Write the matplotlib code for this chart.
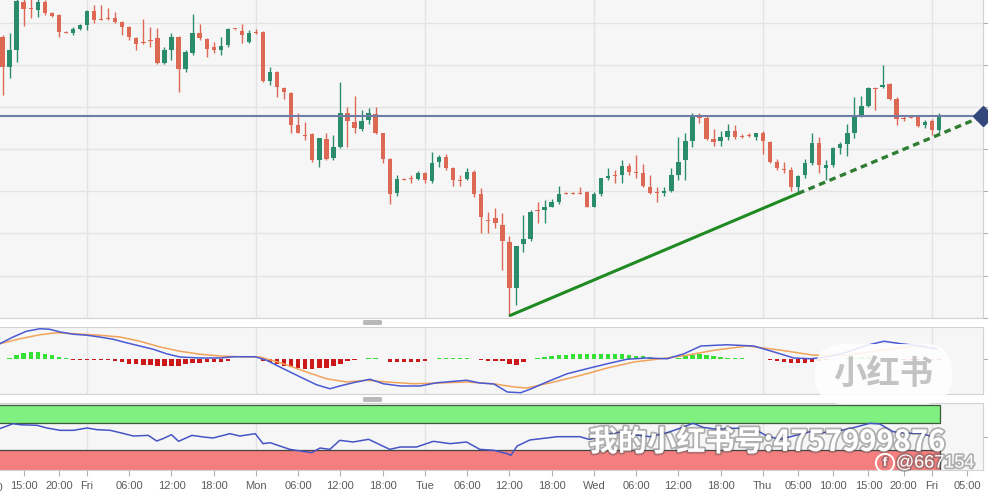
import numpy as np
import matplotlib.pyplot as plt
import matplotlib.patheffects as pe
from matplotlib.patches import FancyBboxPatch, Rectangle
from matplotlib.transforms import IdentityTransform

plt.rcParams['font.family'] = ['Liberation Sans', 'DejaVu Sans']

# hourly candles, hour 0 = Friday 00:00 (weekend skipped)
hours = list(range(-12, 122))
opens = [
    1.08667, 1.08595, 1.08636, 1.08750, 1.08736, 1.08731, 1.08750, 1.08724, 1.08719, 1.08679, 1.08676, 1.08686,
    1.08695, 1.08729, 1.08710, 1.08710, 1.08712, 1.08702, 1.08690, 1.08664, 1.08655, 1.08660, 1.08664, 1.08605,
    1.08636, 1.08667, 1.08590, 1.08629, 1.08676, 1.08662, 1.08643, 1.08636, 1.08648, 1.08686, 1.08681, 1.08655,
    1.08679, 1.08679, 1.08562, 1.08583, 1.08545, 1.08533, 1.08457, 1.08433, 1.08436, 1.08374, 1.08424, 1.08379,
    1.08405, 1.08486, 1.08464, 1.08448, 1.08469, 1.08483, 1.08438, 1.08376, 1.08295, 1.08329, 1.08331, 1.08329,
    1.08343, 1.08324, 1.08369, 1.08381, 1.08355, 1.08326, 1.08329, 1.08345, 1.08293, 1.08231, 1.08236, 1.08221,
    1.08179, 1.08071, 1.08174, 1.08186, 1.08255, 1.08255, 1.08264, 1.08274, 1.08295, 1.08295, 1.08295, 1.08298,
    1.08264, 1.08293, 1.08331, 1.08338, 1.08340, 1.08360, 1.08345, 1.08343, 1.08310, 1.08298, 1.08295, 1.08300,
    1.08340, 1.08374, 1.08419, 1.08476, 1.08474, 1.08424, 1.08419, 1.08429, 1.08443, 1.08431, 1.08433, 1.08429,
    1.08440, 1.08417, 1.08369, 1.08352, 1.08352, 1.08310, 1.08338, 1.08367, 1.08414, 1.08355, 1.08362, 1.08402,
    1.08412, 1.08440, 1.08479, 1.08502, 1.08545, 1.08548, 1.08555, 1.08519, 1.08474, 1.08476, 1.08476, 1.08457,
    1.08467, 1.08445,
]
highs = [
    1.08671, 1.08676, 1.08767, 1.08760, 1.08760, 1.08760, 1.08755, 1.08726, 1.08721, 1.08681, 1.08690, 1.08698,
    1.08731, 1.08743, 1.08743, 1.08736, 1.08726, 1.08705, 1.08693, 1.08667, 1.08710, 1.08690, 1.08688, 1.08643,
    1.08676, 1.08669, 1.08636, 1.08721, 1.08698, 1.08664, 1.08655, 1.08667, 1.08688, 1.08686, 1.08698, 1.08683,
    1.08686, 1.08681, 1.08595, 1.08586, 1.08548, 1.08536, 1.08486, 1.08464, 1.08438, 1.08426, 1.08438, 1.08433,
    1.08560, 1.08500, 1.08526, 1.08493, 1.08498, 1.08500, 1.08440, 1.08379, 1.08338, 1.08331, 1.08338, 1.08348,
    1.08345, 1.08393, 1.08386, 1.08388, 1.08357, 1.08338, 1.08355, 1.08350, 1.08307, 1.08250, 1.08260, 1.08248,
    1.08195, 1.08171, 1.08245, 1.08255, 1.08274, 1.08279, 1.08281, 1.08314, 1.08298, 1.08298, 1.08310, 1.08300,
    1.08298, 1.08333, 1.08355, 1.08352, 1.08374, 1.08367, 1.08386, 1.08364, 1.08340, 1.08310, 1.08310, 1.08355,
    1.08429, 1.08440, 1.08486, 1.08486, 1.08481, 1.08448, 1.08443, 1.08460, 1.08457, 1.08436, 1.08438, 1.08440,
    1.08443, 1.08419, 1.08376, 1.08371, 1.08357, 1.08340, 1.08376, 1.08438, 1.08429, 1.08374, 1.08405, 1.08417,
    1.08460, 1.08524, 1.08526, 1.08548, 1.08548, 1.08600, 1.08557, 1.08524, 1.08481, 1.08479, 1.08481, 1.08469,
    1.08471, 1.08486,
]
lows = [
    1.08529, 1.08569, 1.08607, 1.08693, 1.08712, 1.08714, 1.08719, 1.08714, 1.08667, 1.08676, 1.08671, 1.08683,
    1.08683, 1.08700, 1.08707, 1.08707, 1.08700, 1.08671, 1.08660, 1.08636, 1.08650, 1.08643, 1.08602, 1.08602,
    1.08612, 1.08536, 1.08583, 1.08624, 1.08660, 1.08619, 1.08629, 1.08624, 1.08643, 1.08683, 1.08652, 1.08652,
    1.08674, 1.08560, 1.08552, 1.08524, 1.08519, 1.08438, 1.08438, 1.08421, 1.08371, 1.08357, 1.08374, 1.08374,
    1.08402, 1.08405, 1.08438, 1.08443, 1.08460, 1.08436, 1.08367, 1.08271, 1.08290, 1.08326, 1.08321, 1.08326,
    1.08319, 1.08321, 1.08357, 1.08350, 1.08314, 1.08312, 1.08326, 1.08286, 1.08202, 1.08200, 1.08214, 1.08112,
    1.08005, 1.08029, 1.08157, 1.08183, 1.08226, 1.08226, 1.08262, 1.08269, 1.08293, 1.08293, 1.08293, 1.08262,
    1.08262, 1.08290, 1.08326, 1.08321, 1.08321, 1.08340, 1.08333, 1.08310, 1.08293, 1.08274, 1.08290, 1.08298,
    1.08326, 1.08326, 1.08405, 1.08462, 1.08421, 1.08407, 1.08407, 1.08421, 1.08424, 1.08426, 1.08429, 1.08421,
    1.08388, 1.08367, 1.08352, 1.08343, 1.08302, 1.08295, 1.08333, 1.08362, 1.08343, 1.08326, 1.08357, 1.08390,
    1.08383, 1.08426, 1.08476, 1.08500, 1.08493, 1.08545, 1.08517, 1.08457, 1.08467, 1.08474, 1.08452, 1.08450,
    1.08433, 1.08440,
]
closes = [
    1.08595, 1.08636, 1.08752, 1.08733, 1.08734, 1.08750, 1.08724, 1.08717, 1.08679, 1.08677, 1.08686, 1.08695,
    1.08729, 1.08707, 1.08708, 1.08709, 1.08702, 1.08690, 1.08667, 1.08650, 1.08652, 1.08657, 1.08605, 1.08636,
    1.08667, 1.08590, 1.08631, 1.08676, 1.08664, 1.08638, 1.08636, 1.08645, 1.08686, 1.08685, 1.08671, 1.08676,
    1.08677, 1.08562, 1.08583, 1.08548, 1.08536, 1.08457, 1.08439, 1.08432, 1.08374, 1.08426, 1.08376, 1.08405,
    1.08486, 1.08467, 1.08450, 1.08467, 1.08486, 1.08438, 1.08376, 1.08293, 1.08329, 1.08328, 1.08330, 1.08343,
    1.08326, 1.08367, 1.08381, 1.08355, 1.08326, 1.08325, 1.08345, 1.08293, 1.08238, 1.08230, 1.08224, 1.08181,
    1.08071, 1.08171, 1.08186, 1.08252, 1.08254, 1.08262, 1.08274, 1.08293, 1.08294, 1.08294, 1.08294, 1.08264,
    1.08293, 1.08331, 1.08336, 1.08337, 1.08360, 1.08345, 1.08343, 1.08312, 1.08295, 1.08297, 1.08302, 1.08340,
    1.08371, 1.08419, 1.08476, 1.08475, 1.08424, 1.08417, 1.08429, 1.08443, 1.08429, 1.08430, 1.08432, 1.08438,
    1.08419, 1.08369, 1.08355, 1.08351, 1.08310, 1.08336, 1.08367, 1.08414, 1.08362, 1.08362, 1.08402, 1.08412,
    1.08440, 1.08479, 1.08502, 1.08545, 1.08544, 1.08552, 1.08519, 1.08471, 1.08473, 1.08475, 1.08455, 1.08464,
    1.08445, 1.08479,
]

level_price = 1.08479
trend_hours = [60.1, 101.0, 127.3]
trend_prices = [1.08005, 1.08295, 1.08479]
price_grid = [1.0800, 1.0810, 1.0820, 1.0830, 1.0840, 1.0850, 1.0860, 1.0870]

# MACD histogram, one bar per candle
macd_hist = [
    0.2, 0.4, 1.6, 2.6, 2.7, 2.7, 2.2, 1.6, 0.8, 0.3, -0.4, -0.4,
    -0.4, -0.4, -0.4, -0.5, -0.6, -1.2, -1.8, -2.0, -2.2, -2.4, -2.6, -2.6,
    -2.6, -2.6, -2.0, -1.6, -1.4, -1.2, -1.2, -1.2, -0.8, -0.1, 0.0, 0.0,
    0.0, -0.8, -1.2, -2.0, -2.6, -3.2, -3.6, -3.8, -4.0, -3.6, -3.4, -2.8,
    -2.0, -0.8, -0.4, 0.0, 0.4, 0.4, 0.0, -1.0, -1.2, -1.2, -1.2, -1.0,
    -0.8, 0.0, 0.4, 0.4, 0.4, 0.4, 0.6, 0.2, -0.2, -0.6, -0.6, -0.8,
    -2.0, -2.2, -1.2, 0.0, 0.4, 0.8, 1.2, 1.6, 1.8, 2.0, 2.0, 2.0,
    2.0, 2.0, 2.0, 2.0, 2.0, 1.8, 1.4, 1.2, 0.8, 0.4, 0.2, 0.2,
    0.6, 1.2, 1.8, 2.0, 1.6, 1.2, 0.8, 0.6, 0.4, 0.3, 0.2, 0.2,
    0.0, -0.4, -0.6, -1.0, -1.4, -1.6, -1.4, -1.0, -0.6, -0.3, 0.0, 0.2,
    0.4, 0.6, 0.8, 0.8, 0.8, 0.6, 0.4, 0.2, -0.2, -0.2, -0.2, -0.2,
    -0.2, -0.2,
]
macd_hours = [-12.4, -10.5, -8.6, -6.7, -5.3, -3.8, -1.9, 0.0, 1.8, 3.7, 5.6, 7.5, 9.4, 11.3, 13.2,
              16.1, 18.9, 20.8, 23.9, 25.5, 27.9, 30.3, 32.6, 34.5, 35.9, 37.8, 40.2, 42.1, 44.5,
              47.3, 49.7, 53.9, 55.8, 57.8, 59.7, 61.6, 63.1, 65.3, 68.2, 71.0, 73.9, 76.7, 79.5,
              82.4, 84.8, 87.2, 90.9, 94.7, 97.6, 100.4, 102.8, 105.1, 108.0, 110.8, 113.2, 115.6,
              118.5, 120.7]
macd_line = [6.1, 8.8, 11.1, 12.1, 11.9, 10.8, 9.9, 9.5, 8.8, 7.9, 6.5, 5.2, 3.9, 2.1, 0.8,
             0.4, 0.4, 0.9, 0.9, -0.5, -3.9, -7.2, -10.3, -11.9, -10.8, -9.5, -8.1, -9.9, -10.8,
             -10.8, -9.5, -8.5, -9.6, -10.0, -13.2, -13.5, -11.9, -9.2, -5.9, -3.9, -1.9, -0.1, 0.4,
             0.1, 2.1, 5.2, 5.7, 5.2, 2.8, 0.4, 0.1, 0.8, 2.8, 5.5, 7.1, 6.1,
             5.2, 4.1]
signal_hours = [-12.4, -9.5, -6.7, -4.3, -1.9, 1.8, 4.7, 7.5, 10.4, 13.2, 16.1, 18.9, 21.7, 24.6,
                27.9, 31.2, 34.0, 36.9, 39.7, 42.6, 46.4, 50.1, 53.9, 57.7, 60.7, 62.5, 66.3, 70.2,
                73.9, 77.7, 81.5, 85.2, 89.1, 93.8, 98.6, 103.3, 108.0, 112.8, 117.5, 120.7]
signal_line = [6.1, 8.1, 9.7, 10.5, 10.1, 9.5, 8.8, 7.1, 4.8, 3.1, 1.9, 1.2, 0.9, 0.8,
               -1.9, -5.2, -7.9, -9.2, -8.5, -9.2, -9.9, -9.6, -9.2, -9.9, -11.2, -11.6, -9.2, -6.5,
               -3.6, -1.2, 0.1, 1.5, 3.5, 5.2, 3.5, 1.5, 1.5, 3.5, 5.2, 3.9]

rsi_hours = [-12.4, -10.5, -9.5, -7.1, -5.7, -3.8, -1.9, 0.0, 1.4, 3.3, 4.7, 6.6, 8.7, 9.9, 10.8,
             12.0, 13.0, 14.9, 16.5, 17.9, 20.3, 21.7, 23.9, 25.0, 26.0, 28.8, 31.9, 33.1, 34.5,
             35.9, 37.8, 40.0, 43.0, 44.5, 46.8, 49.2, 51.6, 53.9, 55.8, 57.8, 59.7, 60.2, 61.1,
             62.9, 66.8, 70.0, 71.4, 73.3, 76.1, 78.1, 80.0, 82.4, 84.2, 86.1, 87.5, 89.5, 91.3,
             94.6, 96.6, 98.4, 100.9, 102.7, 104.5, 107.4, 109.4, 111.2, 112.6, 114.5, 116.5,
             118.3, 120.2]
rsi_values = [61.7, 69.1, 67.6, 66.7, 62.7, 59.2, 59.2, 62.7, 60.2, 59.2, 55.7, 50.7, 51.7, 43.3, 46.8,
              52.7, 42.8, 51.7, 49.3, 47.8, 54.2, 50.7, 54.2, 39.3, 40.8, 30.8, 25.9, 32.8, 30.8,
              44.3, 41.8, 45.8, 30.8, 34.3, 34.3, 42.8, 39.3, 41.8, 30.8, 29.4, 24.3, 21.9, 35.8,
              44.8, 49.7, 49.7, 45.5, 52.2, 57.2, 52.0, 49.7, 55.7, 62.2, 69.7, 63.7, 60.7, 62.2,
              62.2, 50.7, 45.8, 52.2, 57.2, 55.7, 59.7, 64.6, 69.7, 68.7, 57.2, 54.8,
              54.8, 49.7]

tick_hours = [-9, -4, 0, 6, 12, 18, 24, 30, 36, 42, 48, 54, 60, 66, 72, 78, 84, 90,
              96, 101, 106, 111, 116, 120, 125]
tick_labels = ['15:00', '20:00', 'Fri', '06:00', '12:00', '18:00', 'Mon', '06:00', '12:00', '18:00',
               'Tue', '06:00', '12:00', '18:00', 'Wed', '06:00', '12:00', '18:00',
               'Thu', '05:00', '10:00', '15:00', '20:00', 'Fri', '05:00']
day_starts = [0, 24, 48, 72, 96, 120]

W, H = 988, 494
x_lo, x_hi = -12.36, 127.27
bg = '#f6f6f6'
grid_c = '#e3e3e3'
edge_c = '#d2d2d2'


def box(x0, y0, x1, y1):
    return [x0 / W, 1 - y1 / H, (x1 - x0) / W, (y1 - y0) / H]


fig = plt.figure(figsize=(9.88, 4.94), dpi=100)
fig.patch.set_facecolor('white')
ax = fig.add_axes(box(0, 0, 983, 318))
ax_m = fig.add_axes(box(0, 327, 983, 394))
ax_r = fig.add_axes(box(0, 403, 983, 470))

for a in (ax, ax_m, ax_r):
    a.set_facecolor(bg)
    a.set_xlim(x_lo, x_hi)
    for d in day_starts:
        a.axvline(d, color=grid_c, lw=1, zorder=0)
    for s in a.spines.values():
        s.set_color(edge_c)
    a.spines['left'].set_visible(False)
    a.tick_params(axis='x', bottom=False, labelbottom=False)
    a.tick_params(axis='y', left=False, labelleft=False, right=True, labelright=False,
                  color='#b0b0b0', length=4)

# ---- price panel
ax.spines['top'].set_visible(False)
ax.set_ylim(1.0800 - 0.00001, 1.08755)
ax.set_yticks(price_grid)
for p in price_grid:
    ax.axhline(p, color=grid_c, lw=1, zorder=0)

o = np.array(opens)
hi = np.array(highs)
lo = np.array(lows)
c = np.array(closes)
x = np.array(hours)
up = c >= o
col = np.where(up, '#2b8c6b', '#dd6955')
ax.vlines(x, lo, hi, colors=col, lw=1, zorder=2)
ax.bar(x, np.maximum(np.abs(c - o), 0.000025), bottom=np.minimum(o, c), width=0.62,
       color=col, lw=0, zorder=3)

ax.axhline(level_price, color='#6d7da6', lw=1.5, zorder=4)
ax.plot(trend_hours[:2], trend_prices[:2], color='#1f8a22', lw=2.2, zorder=5,
        solid_capstyle='round')
ax.plot(trend_hours[1:], trend_prices[1:], color='#2f7d32', lw=2.4, zorder=5,
        ls=(0, (2.0, 1.4)))
ax.plot([trend_hours[2]], [level_price], marker='D', ms=10, color='#34477a',
        clip_on=False, zorder=6)

# ---- MACD panel
ax_m.set_ylim(-14.0, 12.8)
ax_m.set_yticks([0])
hist = np.array(macd_hist)
keep = hist != 0
ax_m.bar(x[keep], hist[keep], width=0.62, color=np.where(hist[keep] > 0, '#33e033', '#cc1818'),
         lw=0, zorder=2)
ax_m.plot(signal_hours, signal_line, color='#f2a35a', lw=1.1, zorder=3)
ax_m.plot(macd_hours, macd_line, color='#4a5ad2', lw=1.1, zorder=4)

# ---- RSI panel
ax_r.set_ylim(0, 100)
ax_r.set_yticks([50])
band_end = 121.2
ax_r.add_patch(Rectangle((x_lo - 2, 70), band_end - x_lo + 2, 27.5, facecolor='#80f080',
                         edgecolor='#3d5a3d', lw=0.9, zorder=1))
ax_r.add_patch(Rectangle((x_lo - 2, -2), band_end - x_lo + 2, 32, facecolor='#f57e7e',
                         edgecolor='#444444', lw=0.9, zorder=1))
ax_r.plot(rsi_hours, rsi_values, color='#4555c4', lw=1.1, zorder=3)
ax_r.set_xticks(tick_hours)
ax_r.set_xticklabels(tick_labels)
ax_r.tick_params(axis='x', bottom=True, labelbottom=True, length=4, pad=4,
                 color='#b0b0b0', labelcolor='#5c5c5c', labelsize=8)
ax_r.text(-14, -0.2, '10:00', transform=ax_r.get_xaxis_transform(), ha='center', va='top',
          fontsize=8, color='#5c5c5c', clip_on=False)

# panel resize handles
for yy in (320, 397):
    fig.add_artist(FancyBboxPatch((363, H - yy - 5), 19, 5, boxstyle='round,pad=0,rounding_size=1.5',
                                  transform=IdentityTransform(), facecolor='#b9b9b9',
                                  edgecolor='none'))

# watermarks
fig.add_artist(FancyBboxPatch((815, H - 404), 137, 60, boxstyle='round,pad=0,rounding_size=28',
                              transform=IdentityTransform(), facecolor='white', alpha=0.88,
                              edgecolor='none', zorder=10))
fig.text(883 / W, 1 - 375 / H, '小红书', ha='center', va='center', fontsize=24,
         fontweight='bold', color='#c3c3c3', family=['Noto Sans CJK SC'], zorder=11)
shadow = [pe.withStroke(linewidth=2.6, foreground='#5a5a5a', alpha=0.45)]
fig.text(767 / W, 1 - 442 / H, '我的小红书号:4757999876', ha='center', va='center',
         fontsize=21, fontweight='bold', color='white',
         family=['Noto Sans CJK SC', 'DejaVu Sans'], path_effects=shadow, zorder=12)
fig.text(935 / W, 1 - 463 / H, '@667154', ha='center', va='center', fontsize=13,
         color='white', family=['Liberation Sans', 'DejaVu Sans'], path_effects=shadow, zorder=12)
fig.text(885 / W, 1 - 463 / H, 'f', ha='center', va='center', fontsize=9, color='white',
         fontweight='bold', path_effects=shadow, zorder=12,
         bbox=dict(boxstyle='circle,pad=0.25', facecolor='none', edgecolor='white', lw=1.4))

fig.savefig('out.png', dpi=100, facecolor='white')
